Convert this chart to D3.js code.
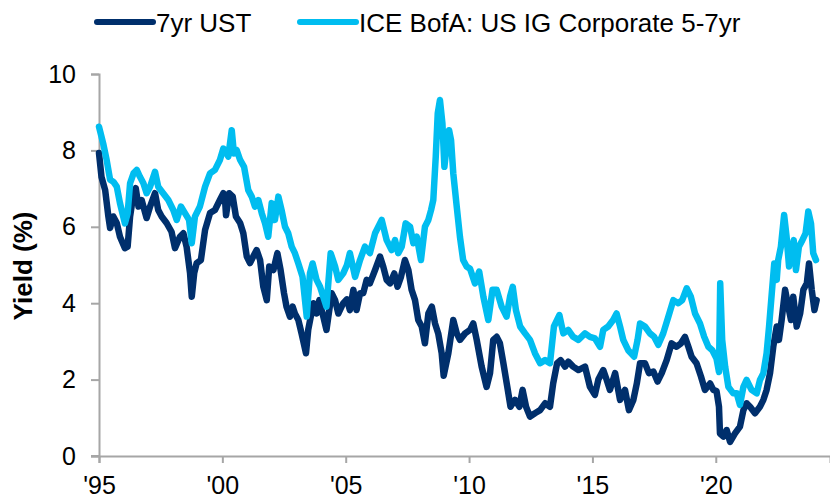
<!DOCTYPE html>
<html>
<head>
<meta charset="utf-8">
<script src="https://cdn.jsdelivr.net/npm/d3@7"></script>
<style>
  body { margin: 0; background: #fff; }
  svg { display: block; font-family: "Liberation Sans", Arial, sans-serif; }
</style>
</head>
<body>
<svg id="chart"></svg>
<script>
// series names
const seriesNames = ["7yr UST", "ICE BofA: US IG Corporate 5-7yr"];

// 7yr UST: decimal year / yield (%)
const ustYears = [
  1995.0, 1995.1, 1995.25, 1995.38, 1995.45, 1995.58, 1995.72, 1995.85, 1996.05, 1996.16,
  1996.26, 1996.4, 1996.49, 1996.6, 1996.73, 1996.93, 1997.07, 1997.27, 1997.4, 1997.54,
  1997.74, 1997.94, 1998.08, 1998.28, 1998.42, 1998.55, 1998.69, 1998.76, 1998.86, 1998.96,
  1999.13, 1999.3, 1999.5, 1999.7, 1999.9, 2000.04, 2000.1, 2000.15, 2000.28, 2000.42,
  2000.55, 2000.72, 2000.85, 2000.99, 2001.12, 2001.25, 2001.39, 2001.53, 2001.66, 2001.8,
  2001.9, 2002.07, 2002.23, 2002.36, 2002.5, 2002.6, 2002.74, 2002.85, 2002.94, 2003.08,
  2003.21, 2003.39, 2003.48, 2003.69, 2003.82, 2003.93, 2004.09, 2004.22, 2004.43, 2004.57,
  2004.7, 2004.9, 2005.05, 2005.17, 2005.31, 2005.44, 2005.58, 2005.71, 2005.85, 2005.98,
  2006.19, 2006.39, 2006.52, 2006.66, 2006.8, 2006.97, 2007.1, 2007.24, 2007.4, 2007.54,
  2007.67, 2007.81, 2007.94, 2008.08, 2008.21, 2008.35, 2008.49, 2008.62, 2008.75, 2008.89,
  2008.97, 2009.16, 2009.36, 2009.5, 2009.63, 2009.84, 2010.04, 2010.17, 2010.31, 2010.51,
  2010.71, 2010.85, 2010.98, 2011.12, 2011.25, 2011.39, 2011.55, 2011.68, 2011.86, 2012.04,
  2012.17, 2012.31, 2012.47, 2012.67, 2012.88, 2013.08, 2013.28, 2013.41, 2013.57, 2013.71,
  2013.89, 2014.02, 2014.22, 2014.43, 2014.7, 2014.9, 2015.1, 2015.24, 2015.44, 2015.58,
  2015.71, 2015.92, 2016.12, 2016.32, 2016.48, 2016.66, 2016.8, 2016.93, 2017.13, 2017.29,
  2017.47, 2017.64, 2017.81, 2018.01, 2018.21, 2018.41, 2018.59, 2018.75, 2018.89, 2019.02,
  2019.22, 2019.4, 2019.56, 2019.77, 2019.9, 2020.03, 2020.13, 2020.17, 2020.31, 2020.44,
  2020.58, 2020.78, 2020.98, 2021.12, 2021.25, 2021.39, 2021.59, 2021.79, 2021.93, 2022.06,
  2022.2, 2022.33, 2022.47, 2022.56, 2022.67, 2022.81, 2022.94, 2023.05, 2023.14, 2023.28,
  2023.42, 2023.55, 2023.69, 2023.78, 2023.89, 2024.0, 2024.09
];
const ustValues = [
  7.93, 7.31, 6.96, 6.27, 5.97, 6.27, 6.1, 5.74, 5.44, 5.48,
  6.27, 6.88, 7.01, 6.53, 6.7, 6.23, 6.53, 6.88, 6.44, 6.27,
  6.1, 5.87, 5.44, 5.74, 5.83, 5.48, 4.79, 4.17, 4.79, 5.05,
  5.13, 5.92, 6.36, 6.44, 6.7, 6.88, 6.79, 6.3, 6.88, 6.79,
  6.27, 6.1, 5.83, 5.22, 5.05, 5.22, 5.39, 5.13, 4.43, 4.08,
  4.96, 4.87, 5.31, 4.87, 4.26, 3.91, 3.65, 3.91, 3.73, 3.56,
  3.21, 2.69, 3.3, 4.0, 3.73, 4.08, 3.65, 3.3, 4.26, 4.08,
  3.73, 4.0, 4.1, 3.82, 4.35, 3.82, 4.26, 4.26, 4.61, 4.52,
  4.87, 5.22, 4.96, 4.61, 4.52, 4.78, 4.43, 4.69, 5.13, 4.87,
  4.35, 4.08, 3.56, 3.39, 2.95, 3.73, 3.91, 3.47, 3.21, 2.69,
  2.1, 2.69, 3.56, 3.21, 3.04, 3.21, 3.3, 3.47, 3.04, 2.34,
  1.81, 2.17, 3.04, 3.12, 2.95, 2.43, 1.81, 1.29, 1.47, 1.29,
  1.73, 1.29, 1.03, 1.12, 1.2, 1.38, 1.29, 1.9, 2.43, 2.51,
  2.34, 2.47, 2.34, 2.25, 2.34, 1.81, 1.6, 2.0, 2.25, 1.99,
  1.73, 2.17, 1.47, 1.73, 1.2, 1.47, 1.9, 2.43, 2.43, 2.17,
  2.21, 1.95, 2.17, 2.51, 2.95, 2.86, 2.95, 3.12, 2.86, 2.6,
  2.43, 2.08, 1.73, 1.9, 1.73, 1.7, 1.29, 0.59, 0.51, 0.68,
  0.37, 0.59, 0.77, 1.2, 1.38, 1.29, 1.12, 1.29, 1.47, 1.73,
  2.17, 2.86, 3.39, 3.04, 3.56, 4.35, 3.91, 3.56, 4.17, 3.39,
  3.73, 4.35, 4.52, 5.04, 4.35, 3.82, 4.08
];

// ICE BofA US IG Corporate 5-7yr: decimal year / yield (%)
const igYears = [
  1995.0, 1995.17, 1995.31, 1995.45, 1995.58, 1995.72, 1995.85, 1996.05, 1996.16, 1996.26,
  1996.4, 1996.53, 1996.66, 1996.8, 1996.93, 1997.07, 1997.27, 1997.4, 1997.6, 1997.81,
  1998.01, 1998.15, 1998.32, 1998.49, 1998.65, 1998.76, 1998.89, 1999.09, 1999.3, 1999.5,
  1999.7, 1999.9, 2000.04, 2000.1, 2000.24, 2000.38, 2000.47, 2000.58, 2000.72, 2000.88,
  2001.05, 2001.19, 2001.32, 2001.46, 2001.6, 2001.73, 2001.86, 2002.0, 2002.13, 2002.27,
  2002.4, 2002.54, 2002.67, 2002.81, 2002.94, 2003.08, 2003.25, 2003.42, 2003.55, 2003.66,
  2003.82, 2003.96, 2004.09, 2004.22, 2004.39, 2004.57, 2004.7, 2004.9, 2005.05, 2005.17,
  2005.38, 2005.58, 2005.78, 2005.98, 2006.19, 2006.46, 2006.66, 2006.86, 2007.0, 2007.13,
  2007.27, 2007.43, 2007.61, 2007.74, 2007.88, 2008.05, 2008.21, 2008.35, 2008.46, 2008.55,
  2008.65, 2008.73, 2008.82, 2008.92, 2009.0, 2009.09, 2009.19, 2009.27, 2009.36, 2009.5,
  2009.63, 2009.76, 2009.9, 2010.04, 2010.24, 2010.41, 2010.58, 2010.78, 2010.95, 2011.12,
  2011.32, 2011.52, 2011.66, 2011.77, 2011.9, 2012.07, 2012.27, 2012.47, 2012.67, 2012.88,
  2013.08, 2013.28, 2013.44, 2013.66, 2013.82, 2014.02, 2014.22, 2014.43, 2014.7, 2014.9,
  2015.1, 2015.31, 2015.44, 2015.64, 2015.84, 2015.98, 2016.12, 2016.25, 2016.45, 2016.69,
  2016.83, 2016.93, 2017.13, 2017.33, 2017.5, 2017.67, 2017.87, 2018.08, 2018.28, 2018.48,
  2018.64, 2018.82, 2018.99, 2019.16, 2019.36, 2019.53, 2019.7, 2019.86, 2020.03, 2020.13,
  2020.18, 2020.26, 2020.38, 2020.51, 2020.71, 2020.85, 2020.98, 2021.12, 2021.25, 2021.45,
  2021.66, 2021.79, 2021.93, 2022.06, 2022.16, 2022.27, 2022.37, 2022.47, 2022.53, 2022.64,
  2022.77, 2022.87, 2022.97, 2023.07, 2023.16, 2023.25, 2023.37, 2023.51, 2023.64, 2023.75,
  2023.86, 2023.95, 2024.06
];
const igValues = [
  8.62, 8.18, 7.75, 7.23, 7.18, 7.05, 6.62, 6.09, 6.35, 7.14,
  7.4, 7.49, 7.31, 7.14, 6.88, 7.05, 7.44, 7.05, 6.88, 6.7,
  6.44, 6.18, 6.53, 6.35, 6.18, 5.57, 6.27, 6.53, 7.05, 7.4,
  7.49, 7.75, 8.05, 8.01, 7.84, 8.53, 7.92, 8.01, 7.75, 7.57,
  6.96, 6.79, 6.53, 6.7, 6.35, 6.09, 5.74, 6.62, 6.18, 6.79,
  6.44, 6.0, 5.83, 5.48, 5.31, 5.04, 4.69, 3.65, 4.78, 5.04,
  4.61, 4.43, 4.17, 3.91, 5.31, 4.96, 4.61, 4.78, 5.0, 5.31,
  4.69, 5.13, 5.48, 5.31, 5.83, 6.18, 5.65, 5.39, 5.65, 5.31,
  5.48, 6.09, 6.0, 5.57, 5.74, 5.13, 6.0, 6.18, 6.44, 6.7,
  7.84, 8.97, 9.32, 8.71, 7.57, 8.1, 8.53, 8.27, 7.4, 6.53,
  5.74, 5.13, 4.96, 4.9, 4.52, 4.83, 4.17, 3.56, 4.35, 4.35,
  3.91, 3.65, 4.17, 4.43, 3.82, 3.39, 3.21, 3.04, 2.69, 2.43,
  2.51, 2.43, 3.39, 3.69, 3.21, 3.3, 3.12, 3.04, 3.21, 3.12,
  3.08, 2.86, 3.3, 3.39, 3.56, 3.73, 3.39, 3.04, 2.77, 2.6,
  3.04, 3.47, 3.39, 3.21, 3.12, 2.91, 3.21, 3.65, 4.08, 4.0,
  4.08, 4.39, 4.17, 3.73, 3.47, 3.12, 2.86, 2.77, 2.55, 2.2,
  4.52, 3.04, 2.34, 1.81, 1.64, 1.64, 1.34, 1.81, 1.99, 1.73,
  1.64, 1.99, 2.17, 2.69, 3.39, 4.26, 5.04, 4.61, 5.13, 5.48,
  6.31, 5.74, 4.96, 5.39, 5.65, 4.87, 5.48, 5.65, 5.83, 6.4,
  6.09, 5.31, 5.13
];

// axis ticks
const xTickYears = [1995, 2000, 2005, 2010, 2015, 2020];
const xTickLabels = ["'95", "'00", "'05", "'10", "'15", "'20"];
const yTicks = [0, 2, 4, 6, 8, 10];

function init() {
  const width = 830,
    height = 499;
  const colors = ["#002f6c", "#00bdf0"];
  const axisColor = "#a6a6a6";

  const svg = d3.select("#chart").attr("width", width).attr("height", height);

  const x = d3.scaleLinear().domain([1995, 2024.63]).range([99, 830]);
  const y = d3.scaleLinear().domain([0, 10]).range([456, 74]);

  // y axis
  const yAxis = svg
    .append("g")
    .attr("transform", "translate(99,0)")
    .call(d3.axisLeft(y).tickValues(yTicks).tickSize(8).tickPadding(15).tickFormat(d3.format("d")));

  // x axis
  const xAxis = svg
    .append("g")
    .attr("transform", "translate(0,456)")
    .call(
      d3
        .axisBottom(x)
        .tickValues(xTickYears)
        .tickSize(7)
        .tickPadding(13)
        .tickFormat((d, i) => xTickLabels[i])
    );

  [xAxis, yAxis].forEach((g) => {
    g.select(".domain").attr("stroke", axisColor).attr("stroke-width", 2);
    g.selectAll(".tick line").attr("stroke", axisColor).attr("stroke-width", 2);
    g.selectAll(".tick text").attr("fill", "#000").style("font-size", "25px");
  });
  // axis line runs past the origin like in the original
  svg
    .append("line")
    .attr("x1", 91)
    .attr("x2", 99)
    .attr("y1", 456)
    .attr("y2", 456)
    .attr("stroke", axisColor)
    .attr("stroke-width", 2);

  // y axis title
  svg
    .append("text")
    .attr("transform", "translate(32,266) rotate(-90)")
    .attr("text-anchor", "middle")
    .style("font-size", "26px")
    .style("font-weight", "bold")
    .attr("fill", "#000")
    .text("Yield (%)");

  const series = [
    { name: seriesNames[0], data: d3.zip(ustYears, ustValues) },
    { name: seriesNames[1], data: d3.zip(igYears, igValues) },
  ];

  const line = d3
    .line()
    .x((d) => x(d[0]))
    .y((d) => y(d[1]));

  svg
    .selectAll("path.series")
    .data(series)
    .join("path")
    .attr("class", "series")
    .attr("d", (d) => line(d.data))
    .attr("fill", "none")
    .attr("stroke", (d, i) => colors[i])
    .attr("stroke-width", 6.5)
    .attr("stroke-linejoin", "round")
    .attr("stroke-linecap", "round");

  // legend
  const legendX = [97, 300];
  const legend = svg
    .selectAll("g.legend")
    .data(series)
    .join("g")
    .attr("class", "legend")
    .attr("transform", (d, i) => `translate(${legendX[i]},22)`);

  legend
    .append("line")
    .attr("x1", 0)
    .attr("x2", 56)
    .attr("stroke", (d, i) => colors[i])
    .attr("stroke-width", 6)
    .attr("stroke-linecap", "round");

  legend
    .append("text")
    .attr("x", 59)
    .attr("y", 10)
    .style("font-size", "26px")
    .attr("fill", "#000")
    .text((d) => d.name);
}

init();
</script>
</body>
</html>
